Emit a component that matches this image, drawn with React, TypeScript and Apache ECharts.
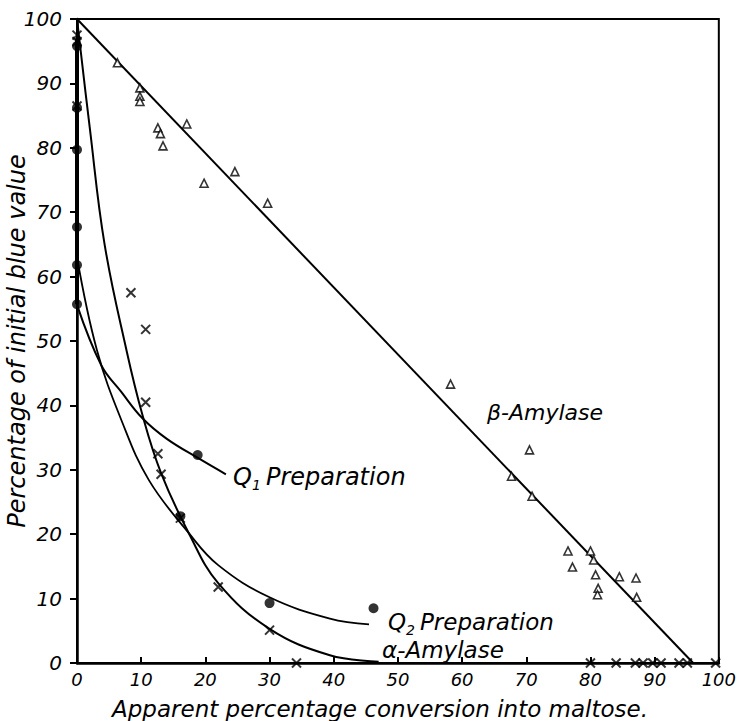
import React, { useEffect, useRef } from "react";
import * as echarts from "echarts";

// β-Amylase fitted line and triangle data points
const betaLine: number[][] = [[0, 100], [96, 0]];
const betaPoints: number[][] = [
  [6.3, 93.2], [9.8, 89.3], [9.8, 88.0], [9.8, 87.2], [12.6, 83.1], [13.0, 82.2],
  [13.4, 80.3], [17.1, 83.7], [19.8, 74.5], [24.6, 76.3], [29.7, 71.4], [58.2, 43.3],
  [67.7, 29.0], [70.5, 33.1], [70.9, 25.9], [76.5, 17.4], [77.2, 14.9], [80.0, 17.4],
  [80.5, 16.0], [80.8, 13.7], [81.2, 11.6], [81.1, 10.6], [84.5, 13.4], [87.1, 13.2],
  [87.2, 10.2],
];

// α-Amylase fitted curve and cross data points
const alphaCurve: number[][] = [
  [0, 100], [2, 83], [4.3, 65], [7.7, 48.6], [10.2, 38.5], [13.1, 29.5],
  [17.5, 20.0], [22, 12.4], [30, 5.3], [39.4, 1.2], [47, 0.2],
];
const alphaPoints: number[][] = [
  [0, 97.5], [0, 96.5], [0, 86.5], [8.4, 57.5], [10.7, 51.8], [10.7, 40.5],
  [12.6, 32.5], [13.1, 29.3], [16.1, 22.5], [22, 11.8], [30, 5.1], [34.2, 0],
  [80, 0], [84, 0], [87, 0], [88.2, 0], [89.7, 0], [91, 0], [93.8, 0], [95.1, 0], [99.5, 0],
];

// Q1 and Q2 preparation curves and filled-circle data points
const q1Curve: number[][] = [
  [0, 55.6], [3.8, 46.2], [6.9, 42.1], [10.2, 38.0], [14, 34.8], [18.9, 31.8], [23.2, 29.3],
];
const q2Curve: number[][] = [
  [0, 63], [3.1, 48.6], [7, 37.5], [11.2, 28.4], [17.4, 20.2],
  [22, 15.2], [30, 10.2], [39.4, 6.9], [45.5, 6.0],
];
const qAxisPoints: number[][] = [[0, 97], [0, 55.7]];
const qPoints: number[][] = [
  [0, 95.8], [0, 86.2], [0, 79.7], [0, 67.7], [0, 61.8], [0, 55.7],
  [18.8, 32.3], [16.1, 22.8], [30, 9.3], [46.2, 8.5],
];

const xTitle = "Apparent percentage conversion into maltose.";
const yTitle = "Percentage of initial blue value";

const FONT = "DejaVu Sans";

export default function App() {
  const ref = useRef<HTMLDivElement>(null);
  useEffect(() => {
    document.body.style.margin = "0";
    const chart = echarts.init(ref.current!, null, { renderer: "svg" });
    const txt = (text: string, x: number, y: number, size = 23, extra: any = {}) => ({
      type: "text",
      x,
      y,
      ...extra,
      style: {
        text,
        fontFamily: FONT,
        fontStyle: "italic",
        fontSize: size,
        fill: "#000",
        align: extra.align || "left",
        verticalAlign: "middle",
      },
    });
    const curve = (data: number[][], width = 2) => ({
      type: "line",
      data,
      smooth: 0.4,
      showSymbol: false,
      lineStyle: { color: "#000", width },
      z: 2,
    });
    chart.setOption({
      animation: false,
      backgroundColor: "#fff",
      grid: {
        left: 77,
        top: 19,
        width: 650,
        height: 644,
        show: true,
        borderColor: "#000",
        borderWidth: 2,
      },
      xAxis: {
        type: "value",
        min: 0,
        max: 100,
        interval: 10,
        axisLine: { lineStyle: { color: "#000", width: 2.5 } },
        axisTick: { inside: true, length: 6, lineStyle: { color: "#000", width: 2 } },
        axisLabel: { color: "#000", fontFamily: FONT, fontStyle: "italic", fontSize: 18, margin: 7 },
        splitLine: { show: false },
      },
      yAxis: {
        type: "value",
        min: 0,
        max: 100,
        interval: 10,
        axisLine: { lineStyle: { color: "#000", width: 2.5 } },
        axisTick: { inside: false, length: 7, lineStyle: { color: "#000", width: 2 } },
        axisLabel: { color: "#000", fontFamily: FONT, fontStyle: "italic", fontSize: 20, margin: 15 },
        splitLine: { show: false },
      },
      series: [
        { ...curve(betaLine, 2), smooth: false },
        curve(alphaCurve, 2),
        curve(q1Curve, 2),
        curve(q2Curve, 1.8),
        { type: "line", data: qAxisPoints, showSymbol: false, lineStyle: { color: "#000", width: 4 } },
        {
          type: "scatter",
          data: betaPoints,
          symbol: "triangle",
          symbolSize: 8,
          itemStyle: { color: "#fff", borderColor: "#000", borderWidth: 1.6 },
          z: 3,
        },
        {
          type: "scatter",
          data: alphaPoints,
          symbol: "path://M0,0L10,10M10,0L0,10",
          symbolSize: 9,
          itemStyle: { color: "none", borderColor: "#000", borderWidth: 2 },
          z: 3,
        },
        {
          type: "scatter",
          data: qPoints,
          symbol: "circle",
          symbolSize: 10,
          itemStyle: { color: "#000" },
          z: 3,
        },
      ],
      graphic: [
        txt(yTitle, 17, 341, 24, { rotation: Math.PI / 2, align: "center" }),
        txt(xTitle, 380, 709, 23, { align: "center" }),
        txt("β-Amylase", 487, 412, 22),
        txt("Q", 233, 477, 24),
        txt("1", 252, 485, 14),
        txt("Preparation", 266, 477, 24),
        txt("Q", 388, 622, 23),
        txt("2", 406, 630, 14),
        txt("Preparation", 420, 622, 23),
        txt("α-Amylase", 382, 650, 23),
      ],
    });
    return () => chart.dispose();
  }, []);
  return <div ref={ref} style={{ width: 739, height: 721 }} />;
}
